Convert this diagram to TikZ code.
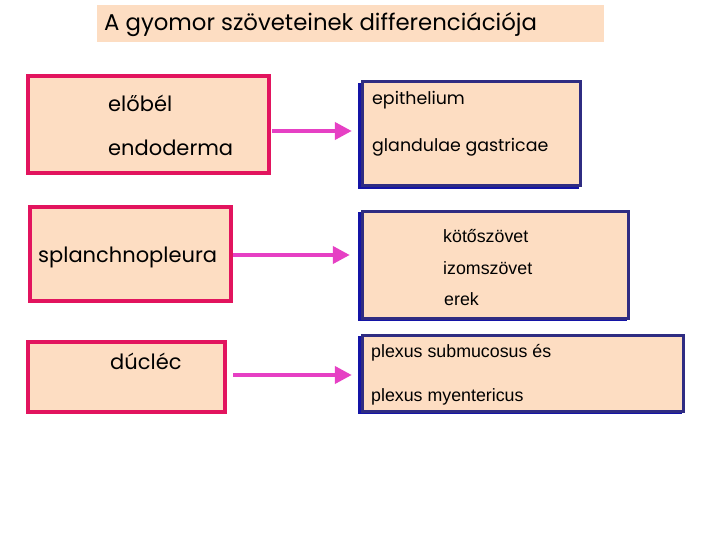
\documentclass[tikz,border=0pt]{standalone}
\usepackage{fontspec}
\setmainfont{Poppins}
\newfontfamily\arialf{Liberation Sans}
\usetikzlibrary{arrows.meta}
\definecolor{peach}{HTML}{FDDDC2}
\definecolor{crimson}{HTML}{E2145E}
\definecolor{navyb}{HTML}{2F2C82}
\definecolor{shadowb}{HTML}{1414A6}
\definecolor{arrowpink}{HTML}{E640C4}
\tikzset{
  pinkbox/.style={draw=crimson, line width=4pt, fill=peach, inner sep=0pt},
  bluebox/.style={draw=navyb, line width=3pt, fill=peach, inner sep=0pt},
  shadowbox/.style={fill=shadowb, inner sep=0pt},
  comic/.style={anchor=base west, inner sep=0pt, font=\fontsize{21}{25}\selectfont},
  arial/.style={anchor=base west, inner sep=0pt, font=\arialf\fontsize{17.8}{21}\selectfont},
  pinkarrow/.style={draw=arrowpink, line width=4pt, -{Triangle[length=17pt,width=17pt]}},
}
\begin{document}
\begin{tikzpicture}[x=1pt,y=-1pt]
\useasboundingbox (0,0) rectangle (720,540);
% title
\node[fill=peach, minimum width=507pt, minimum height=37pt, inner sep=0pt] (title) at (350.5,23.5) {};
\node[anchor=base west, inner sep=0pt, font=\fontsize{22.8}{26}\selectfont] (titletext) at (104,31) {A gyomor szöveteinek differenciációja};
% left boxes
\node[pinkbox, minimum width=241pt, minimum height=97pt] (b1) at (148.5,124.5) {};
\node[pinkbox, minimum width=201pt, minimum height=94pt] (b3) at (130.5,254) {};
\node[pinkbox, minimum width=197pt, minimum height=70pt] (b5) at (126.5,377) {};
% right boxes with shadows
\node[shadowbox, minimum width=221pt, minimum height=106pt] (s2) at (468.5,136) {};
\node[bluebox, minimum width=218pt, minimum height=104pt] (b2) at (471,134) {};
\node[shadowbox, minimum width=269pt, minimum height=109pt] (s4) at (492.5,266.5) {};
\node[bluebox, minimum width=266pt, minimum height=106pt] (b4) at (495,265) {};
\node[shadowbox, minimum width=324pt, minimum height=78pt] (s6) at (520,375) {};
\node[bluebox, minimum width=321pt, minimum height=76pt] (b6) at (522.5,373.5) {};
% texts
\node[comic] (t1a) at (108,112) {előbél};
\node[comic] (t1b) at (108,156) {endoderma};
\node[comic] (t3) at (38,262) {splanchnopleura};
\node[comic] (t5) at (110,369) {dúcléc};
\node[comic, font=\fontsize{17.4}{21}\selectfont] (t2a) at (372,105) {epithelium};
\node[comic, font=\fontsize{17.4}{21}\selectfont] (t2b) at (372,152) {glandulae gastricae};
\node[arial] (t4a) at (443,242) {kötőszövet};
\node[arial] (t4b) at (443,274) {izomszövet};
\node[arial] (t4c) at (444,305) {erek};
\node[arial] (t6a) at (371,357) {plexus submucosus és};
\node[arial] (t6b) at (371,401) {plexus myentericus};
% arrows
\draw[pinkarrow, shorten <=1pt, shorten >=6pt] (b1.east |- 0,131) -- (s2.west |- 0,131);
\draw[pinkarrow, shorten <=0pt, shorten >=8pt] (b3.east |- 0,255) -- (s4.west |- 0,255);
\draw[pinkarrow, shorten <=6pt, shorten >=6pt] (b5.east |- 0,375) -- (s6.west |- 0,375);
\end{tikzpicture}
\end{document}
